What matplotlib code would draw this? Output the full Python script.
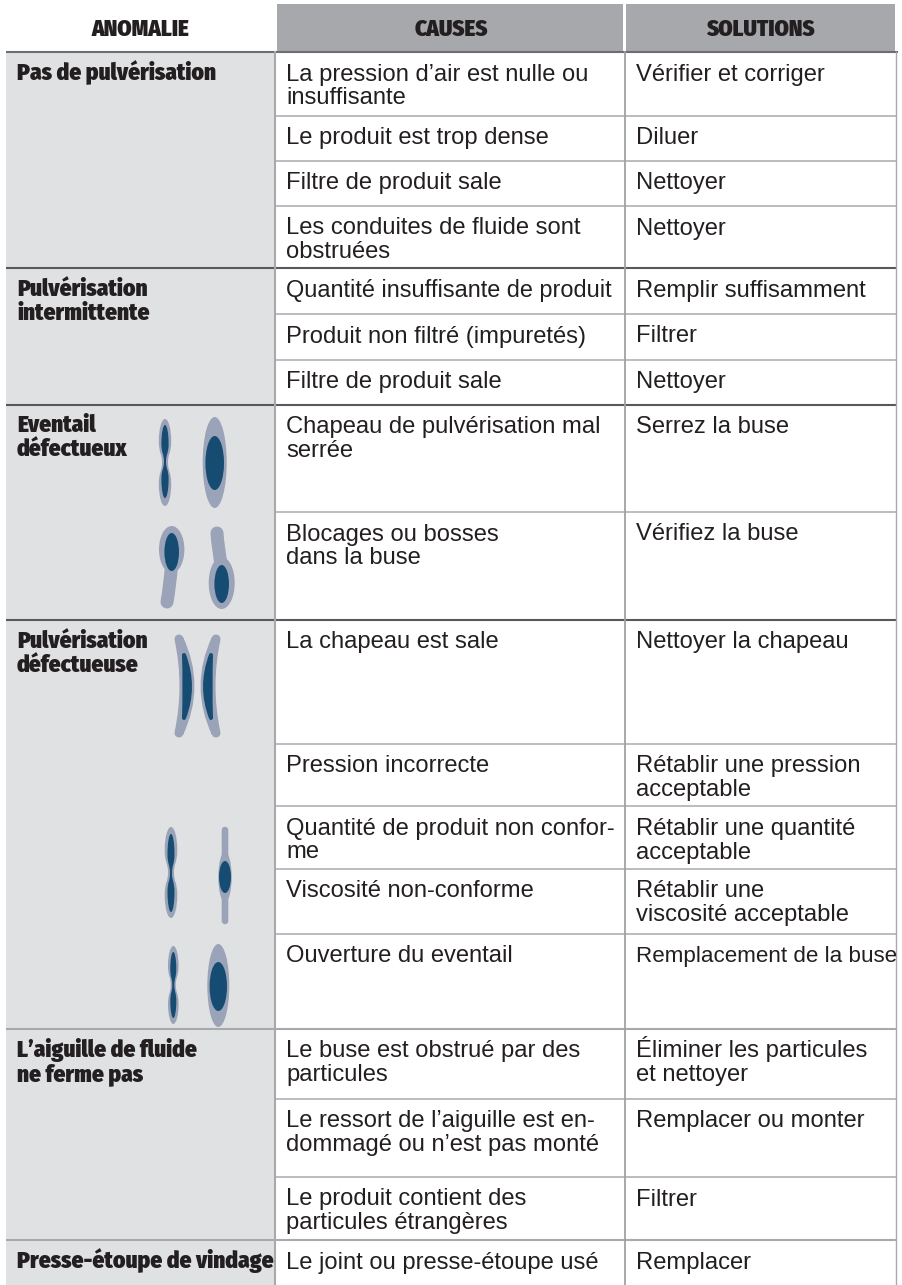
import matplotlib
matplotlib.use('Agg')
import matplotlib.pyplot as plt
from matplotlib.patches import Rectangle, PathPatch, Ellipse
from matplotlib.path import Path

headers = ['ANOMALIE', 'CAUSES', 'SOLUTIONS']
anomalies = ['Pas de pulvérisation', 'Pulvérisation\nintermittente', 'Eventail\ndéfectueux',
             'Pulvérisation\ndéfectueuse', 'L’aiguille de fluide\nne ferme pas', 'Presse-étoupe de vindage']
causes = ['La pression d’air est nulle ou\ninsuffisante', 'Le produit est trop dense', 'Filtre de produit sale',
          'Les conduites de fluide sont\nobstruées',
          'Quantité insuffisante de produit', 'Produit non filtré (impuretés)', 'Filtre de produit sale',
          'Chapeau de pulvérisation mal\nserrée', 'Blocages ou bosses\ndans la buse',
          'La chapeau est sale', 'Pression incorrecte', 'Quantité de produit non confor-\nme',
          'Viscosité non-conforme', 'Ouverture du eventail',
          'Le buse est obstrué par des\nparticules', 'Le ressort de l’aiguille est en-\ndommagé ou n’est pas monté',
          'Le produit contient des\nparticules étrangères', 'Le joint ou presse-étoupe usé']
solutions = ['Vérifier et corriger', 'Diluer', 'Nettoyer', 'Nettoyer',
             'Remplir suffisamment', 'Filtrer', 'Nettoyer',
             'Serrez la buse', 'Vérifiez la buse',
             'Nettoyer la chapeau', 'Rétablir une pression\nacceptable', 'Rétablir une quantité\nacceptable',
             'Rétablir une\nviscosité acceptable', 'Remplacement de la buse',
             'Éliminer les particules\net nettoyer', 'Remplacer ou monter', 'Filtrer', 'Remplacer']

# layout, in reference pixels
row_tops = [52, 115.5, 160.5, 206, 268, 314, 359.5, 404.5, 512, 619.5, 743.5, 806, 868.5, 933.5, 1029, 1099, 1177, 1240]
group_rows = [0, 4, 7, 9, 14, 17]
dark_rows = {268, 404.5, 619.5}
W, H = 902, 1285
X0, X1, X2, X3 = 6, 275, 625, 896
TEXT = '#231f20'
BG = '#e0e1e3'
HEAD = '#a6a8ab'
OUT = '#9aa3b8'
INN = '#164c72'
PX = 0.72
SIZE = 17.1
TIGHT = {'Remplacement de la buse': 16.1, 'Quantité insuffisante de produit': 16.9}

fig = plt.figure(figsize=(W / 100, H / 100), dpi=100)
ax = fig.add_axes([0, 0, 1, 1])
ax.set_xlim(0, W)
ax.set_ylim(H, 0)
ax.axis('off')

ax.add_patch(Rectangle((X0, 52), X1 - X0, H - 52, fc=BG, ec='none'))
ax.add_patch(Rectangle((277, 4), 346, 48, fc=HEAD, ec='none'))
ax.add_patch(Rectangle((626, 4), 269, 48, fc=HEAD, ec='none'))

ax.plot([X0, 898], [52, 52], color='#6d6e71', lw=1.5, solid_capstyle='butt')
for i, y in enumerate(row_tops[1:], 1):
    if i in group_rows:
        col = '#58595b' if y in dark_rows else '#a7a9ac'
        ax.plot([X0, X3], [y, y], color=col, lw=1.5, solid_capstyle='butt')
    else:
        ax.plot([X1, X3], [y, y], color='#b5b6b8', lw=1.3, solid_capstyle='butt')
ax.plot([X1, X1], [52, H], color='#a7a9ac', lw=1.5)
ax.plot([X2, X2], [52, H], color='#a0a1a4', lw=1.3)
ax.plot([X3, X3], [52, H], color='#a7a9ac', lw=1.0)

BOLD = ['Fira Sans Condensed', 'Liberation Sans']
for t, cx in zip(headers, [140, 451, 760]):
    ax.text(cx, 36, t, ha='center', va='baseline', fontsize=16.5, family=BOLD, weight='black', color=TEXT)


def put(x, y, s, **kw):
    for k, line in enumerate(s.split('\n')):
        kw2 = dict(kw)
        if kw.get('fontsize') == SIZE and line in TIGHT:
            kw2['fontsize'] = TIGHT[line]
        ax.text(x, y + 24 * k, line, va='baseline', ha='left', color=TEXT, **kw2)


for r, s in zip(group_rows, anomalies):
    put(17, row_tops[r] + 28, s, fontsize=16.8, family=BOLD, weight='black')
for y, c, s in zip(row_tops, causes, solutions):
    put(286, y + 28.5, c, fontsize=SIZE, family='Liberation Sans')
    put(636, y + 28.5, s, fontsize=SIZE, family='Liberation Sans')


def ell(cx, y0, y1, hw, col):
    ax.add_patch(Ellipse((cx, (y0 + y1) / 2), 2 * hw, y1 - y0, fc=col, ec='none', zorder=3))


def dumbbell(cx, y0, y1, hw, neck, col):
    """Two lobes joined by a waist, drawn as one smooth outline."""
    h = y1 - y0
    q = h * 0.25
    right = [(cx + hw * 0.55, y0), (cx + hw, y0 + q * 0.45), (cx + hw, y0 + q),
             (cx + hw, y0 + q * 1.6), (cx + neck, y0 + q * 1.55), (cx + neck, y0 + 2 * q),
             (cx + neck, y1 - q * 1.55), (cx + hw, y1 - q * 1.6), (cx + hw, y1 - q),
             (cx + hw, y1 - q * 0.45), (cx + hw * 0.55, y1), (cx, y1)]
    left = [(2 * cx - x, y) for x, y in reversed(right[:-1])] + [(cx, y0)]
    verts = [(cx, y0)] + right + left
    codes = [Path.MOVETO] + [Path.CURVE4] * (len(verts) - 1)
    ax.add_patch(PathPatch(Path(verts, codes), fc=col, ec='none', zorder=3))


def tube(p0, c, p1, w, col):
    path = Path([p0, c, p1], [Path.MOVETO, Path.CURVE3, Path.CURVE3])
    ax.add_patch(PathPatch(path, fc='none', ec=col, lw=w * PX, capstyle='round', zorder=3))


def crescent(tx, y0, y1, xa, xb, w, col):
    my = (y0 + y1) / 2
    verts = [(tx, y0), (2 * xa - tx, my), (tx, y1), (2 * xb - tx, my), (tx, y0), (tx, y0)]
    codes = [Path.MOVETO, Path.CURVE3, Path.CURVE3, Path.CURVE3, Path.CURVE3, Path.CLOSEPOLY]
    ax.add_patch(PathPatch(Path(verts, codes), fc=col, ec=col, lw=w * PX, joinstyle='round', zorder=3))


# Eventail défectueux
dumbbell(165, 419, 506, 6.2, 3, OUT)
dumbbell(165, 425, 498, 3.6, 1, INN)
ell(214.7, 417, 508, 12, OUT)
ell(214.7, 436, 490, 9.3, INN)
ell(171.7, 526, 573, 12.7, OUT)
tube((171.5, 565), (170, 585), (167, 602), 13, OUT)
ell(171.7, 533, 571, 7.3, INN)
tube((217, 533), (218, 548), (222, 570), 13, OUT)
ell(221.7, 557, 609, 13, OUT)
ell(221.7, 565, 603, 7.3, INN)

# Pulvérisation défectueuse
crescent(179, 639, 733, 190, 184, 9, OUT)
crescent(184, 655, 718, 190, 184.5, 4, INN)
crescent(216, 639, 733, 205, 211, 9, OUT)
crescent(211, 655, 718, 205, 210.5, 4, INN)

dumbbell(171, 827, 918, 6.3, 3, OUT)
dumbbell(171, 834, 912, 3.5, 1, INN)
tube((225, 830), (225, 875), (225, 921), 6.6, OUT)
ell(225, 852, 902, 6.7, OUT)
ell(225, 861, 893, 6, INN)
dumbbell(173.3, 946, 1024, 5.3, 2.5, OUT)
dumbbell(173.3, 952, 1018, 3, 1, INN)
ell(218.3, 944, 1027, 11, OUT)
ell(218.3, 962, 1011, 8.7, INN)

fig.savefig('out.png', dpi=100)
